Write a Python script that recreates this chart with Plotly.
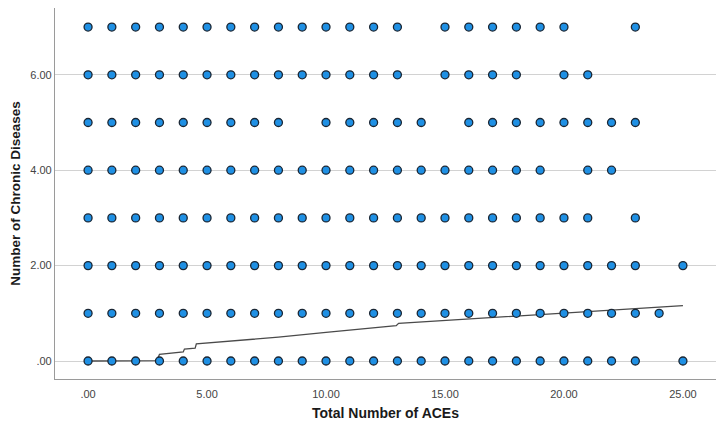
import plotly.graph_objects as go

# ACE totals observed at each number of chronic diseases
aces_d0 = [0,1,2,3,4,5,6,7,8,9,10,11,12,13,14,15,16,17,18,19,20,21,22,23,25]
aces_d1 = [0,1,2,3,4,5,6,7,8,9,10,11,12,13,14,15,16,17,18,19,20,21,22,23,24]
aces_d2 = [0,1,2,3,4,5,6,7,8,9,10,11,12,13,14,15,16,17,18,19,20,21,22,23,25]
aces_d3 = [0,1,2,3,4,5,6,7,8,9,10,11,12,13,14,15,16,17,18,19,20,21,23]
aces_d4 = [0,1,2,3,4,5,6,7,8,9,10,11,12,13,14,15,16,17,18,19,21,22]
aces_d5 = [0,1,2,3,4,5,6,7,8,10,11,12,13,14,16,17,18,19,20,21,22,23]
aces_d6 = [0,1,2,3,4,5,6,7,8,9,10,11,12,13,15,16,17,18,20,21]
aces_d7 = [0,1,2,3,4,5,6,7,8,9,10,11,12,13,15,16,17,18,19,20,23]
disease_levels = [0, 1, 2, 3, 4, 5, 6, 7]

# Fit line
fit_x = [0, 2.9, 3.0, 4.0, 4.05, 4.5, 4.55, 6, 8, 10, 12, 12.95, 13.05, 15, 17, 19, 21, 23, 25]
fit_y = [0, 0.01, 0.14, 0.19, 0.25, 0.27, 0.36, 0.42, 0.50, 0.60, 0.70, 0.74, 0.79, 0.85, 0.91, 0.98, 1.04, 1.10, 1.16]

x_ticks = [0, 5, 10, 15, 20, 25]
x_ticktext = [".00", "5.00", "10.00", "15.00", "20.00", "25.00"]
y_ticks = [0, 2, 4, 6]
y_ticktext = [".00", "2.00", "4.00", "6.00"]

rows = [aces_d0, aces_d1, aces_d2, aces_d3, aces_d4, aces_d5, aces_d6, aces_d7]
xs, ys = [], []
for lvl, row in zip(disease_levels, rows):
    xs.extend(row)
    ys.extend([lvl] * len(row))

fig = go.Figure()
fig.add_trace(go.Scatter(
    x=fit_x, y=fit_y, mode="lines",
    line=dict(color="#4a4a4a", width=1.3),
    hoverinfo="skip", showlegend=False,
))
fig.add_trace(go.Scatter(
    x=xs, y=ys, mode="markers",
    marker=dict(size=8, color="#1f90e4", line=dict(color="#1b2633", width=1.3)),
    showlegend=False,
))

# page body adds an 8px margin at left/top, so the figure is sized to compensate
fig.update_layout(
    width=716, height=423,
    margin=dict(l=47, r=8, t=0, b=52),
    paper_bgcolor="white", plot_bgcolor="white",
    font=dict(family="Liberation Sans, Arial, sans-serif", color="#333333"),
    xaxis=dict(
        range=[-1.39, 26.39], tickvals=x_ticks, ticktext=x_ticktext,
        showgrid=False, zeroline=False, automargin=False,
        showline=True, linecolor="#9a9a9a", linewidth=1.2,
        ticks="", ticklabelstandoff=5, tickfont=dict(size=11, color="#444444"),
        title=dict(text="<b>Total Number of ACEs</b>", font=dict(size=14, color="#1a1a1a"), standoff=8),
    ),
    yaxis=dict(
        range=[-0.377, 7.40], tickvals=y_ticks, ticktext=y_ticktext,
        showgrid=True, gridcolor="#d2d2d2", gridwidth=1.2, zeroline=False, automargin=False,
        showline=True, linecolor="#9a9a9a", linewidth=1.2,
        ticks="", tickfont=dict(size=11, color="#444444"),
        title=dict(text="<b>Number of Chronic Diseases</b>", font=dict(size=13.5, color="#1a1a1a"), standoff=6),
    ),
)

fig.write_html("out.html")
